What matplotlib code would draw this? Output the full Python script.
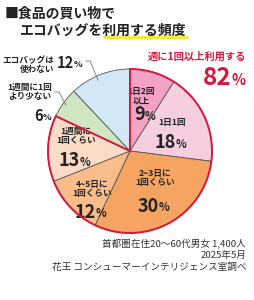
import matplotlib.pyplot as plt
from matplotlib.patches import Wedge

plt.rcParams['font.family'] = ['Noto Sans CJK JP', 'DejaVu Sans']

# データ（時計回り、上から）
labels = ["1日2回\n以上", "1日1回", "2~3日に\n1回くらい", "4~5日に\n1回くらい",
          "1週間に\n1回くらい", "1週間に1回\nより少ない", "エコバッグは\n使わない"]
values = [9, 18, 30, 12, 13, 6, 12]
colors = ["#f4a3c6", "#f5cfe0", "#f6a462", "#f8bd8a", "#fbdcc6", "#cfe6c2", "#d3e7f7"]
weekly_total = 82

W, H = 255, 300
fig = plt.figure(figsize=(W / 100, H / 100), dpi=100)
ax = fig.add_axes([0, 0, 1, 1])

def Y(y):
    return H - y

cx, cy, r = 130, Y(151), 82
wedges, _ = ax.pie(values, colors=colors, startangle=90, counterclock=False,
                   center=(cx, cy), radius=r, frame=True,
                   wedgeprops=dict(edgecolor="#555555", linewidth=0.6))
ax.set_xlim(0, W)
ax.set_ylim(0, H)
ax.set_aspect("equal")
ax.axis("off")

# 週1回以上の枠
span = sum(values[:5]) / sum(values) * 360
ax.add_patch(Wedge((cx, cy), r, 90 - span, 90, fill=False,
                   edgecolor="#d9173c", linewidth=1.4, zorder=5))

txt = dict(ha="center", va="center", color="#222222", fontweight="bold")

def pct(x, y, v, size=13):
    ax.text(x + 4, Y(y), str(v), ha="right", va="center", fontsize=size,
            fontweight="bold", color="#222222")
    ax.text(x + 4, Y(y) - 1.5, "%", ha="left", va="center", fontsize=size * 0.62,
            fontweight="bold", color="#222222")

# 内側ラベル
inner = [(141, 96, 115), (172, 122, 143), (155, 178, 206), (92, 189, 212), (76, 136, 161)]
for (x, ly, py), lab, v in zip(inner, labels[:5], values[:5]):
    ax.text(x, Y(ly), lab, fontsize=6.2, linespacing=1.0, **txt)
    pct(x, py, v)

# 外側ラベル
ax.text(54, Y(65), labels[6], ha="right", va="center", fontsize=6.2, linespacing=1.0,
        fontweight="bold", color="#222222")
pct(70, 63, values[6], 10.5)
ax.plot([86, 90, 98], [Y(61), Y(61), Y(80)], color="#777777", lw=0.6)

ax.text(30, Y(92), labels[5], fontsize=6.2, linespacing=1.0, **txt)
pct(39, 116, values[5], 10.5)
ax.plot([55, 59, 66], [Y(92), Y(92), Y(105)], color="#777777", lw=0.6)

# 82%
ax.text(197, Y(57), "週に1回以上利用する", ha="center", va="center", fontsize=7.4,
        fontweight="bold", color="#d9173c")
ax.text(232, Y(78), str(weekly_total), ha="right", va="center", fontsize=17.5,
        fontweight="bold", color="#d9173c")
ax.text(232, Y(80), "%", ha="left", va="center", fontsize=10.5,
        fontweight="bold", color="#d9173c")

# タイトル
ax.text(5, Y(14), "■食品の買い物で", ha="left", va="center", fontsize=10,
        fontweight="bold", color="#222222")
ax.plot([103, 188], [Y(37), Y(37)], color="#f5ea3a", lw=2.5, solid_capstyle="butt")
ax.text(20, Y(31), "エコバッグを利用する頻度", ha="left", va="center", fontsize=10,
        fontweight="bold", color="#222222")

# 出典
foot = dict(ha="right", va="center", fontsize=6.9, color="#333333")
ax.text(246, Y(243), "首都圏在住20～60代男女 1,400人", **foot)
ax.text(246, Y(255), "2025年5月", **foot)
ax.text(247, Y(267), "花王 コンシューマーインテリジェンス室調べ", **foot)

fig.savefig("out.png", dpi=100)
